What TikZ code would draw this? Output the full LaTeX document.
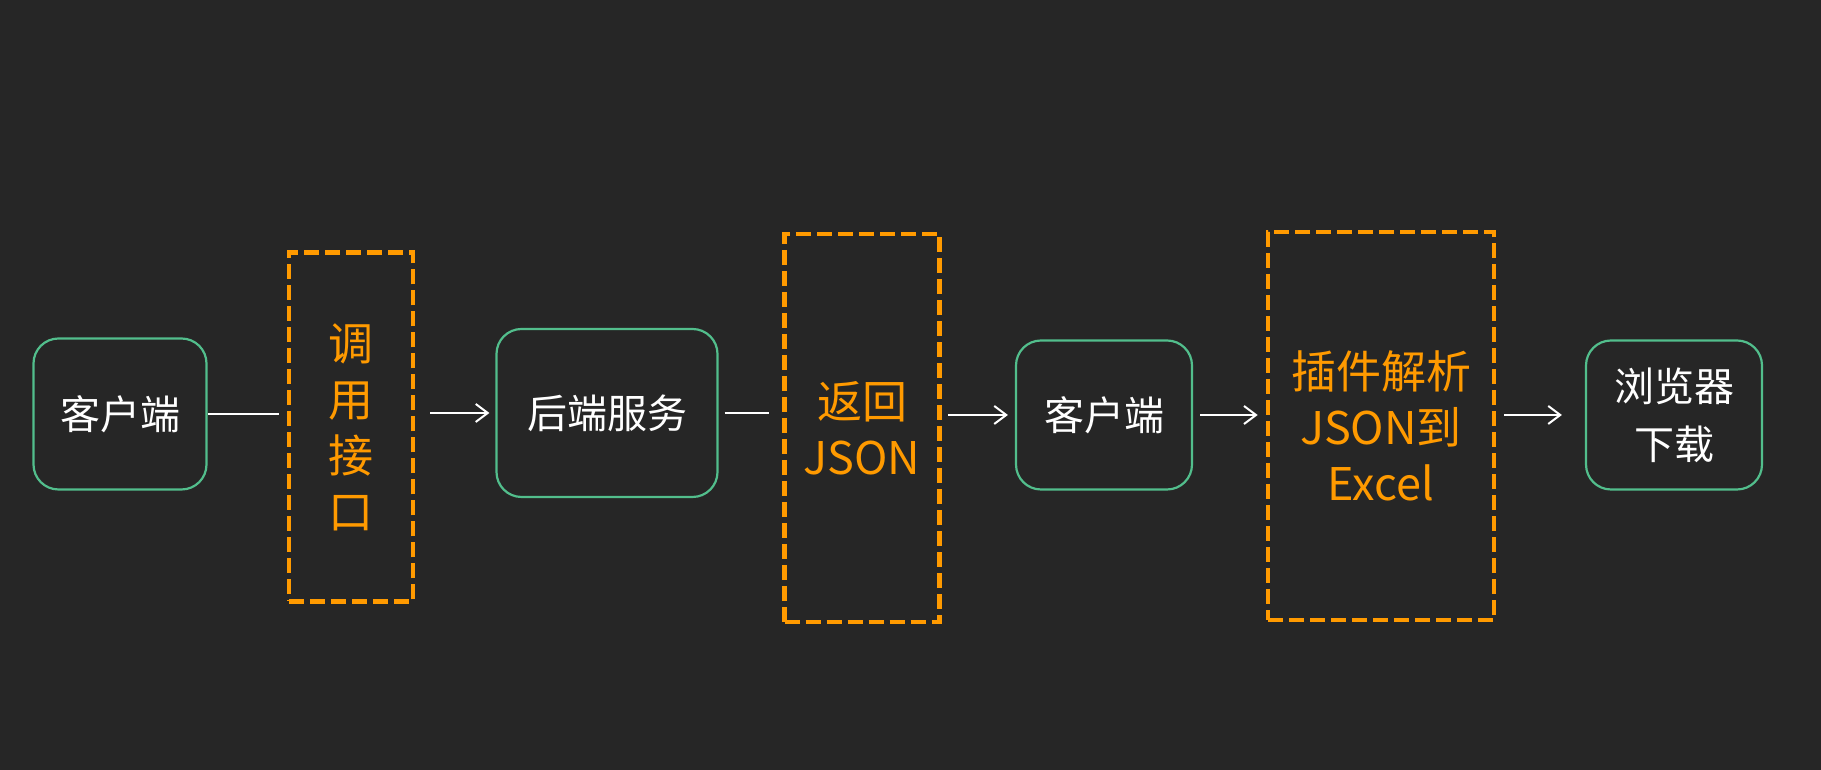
\documentclass[tikz,border=0pt]{standalone}
\usepackage{fontspec}
\setmainfont{Noto Sans CJK SC}
\usetikzlibrary{arrows.meta}
\definecolor{bg}{HTML}{262626}
\definecolor{mint}{HTML}{52BE8C}
\definecolor{amber}{HTML}{FF9A00}

\begin{document}
\begin{tikzpicture}[x=1pt,y=1pt,>={Straight Barb[length=12pt,width=18pt]},
    stage node/.style={draw=mint,line width=2.2pt,rounded corners=25pt,text=white,font=\fontsize{40}{58}\selectfont,align=center,inner sep=0pt},
    note node/.style={draw=amber,line width=4.6pt,dash pattern=on 15pt off 6pt,text=amber,font=\fontsize{45}{56}\selectfont,align=center,inner sep=0pt},
    link/.style={white,line width=2pt}]
   \fill[bg] (0,0) rectangle (1821,770);
   \useasboundingbox (0,0) rectangle (1821,770);
   % steps
   \node[stage node,minimum width=173pt,minimum height=151pt] (client) at (120,356) {客户端};
   \node[stage node,minimum width=221pt,minimum height=168pt] (server) at (607,357) {后端服务};
   \node[stage node,minimum width=176pt,minimum height=149pt] (client2) at (1104,355) {客户端};
   \node[stage node,minimum width=176pt,minimum height=149pt] (browser) at (1674,355) {浏览器\\下载};
   % notes
   \node[note node,minimum width=124pt,minimum height=349pt] (call) at (351,343) {调\\用\\接\\口};
   \node[note node,minimum width=155pt,minimum height=388pt] (json) at (862,342) {返回\\JSON};
   \node[note node,minimum width=226pt,minimum height=388pt] (plugin) at (1381,344) {插件解析\\JSON到\\Excel};
   % connectors
   \draw[link,shorten >=8pt] (client.east) -- (client.east -| call.west);
   \draw[link,->,shorten <=15pt,shorten >=6pt] (call.east |- server) -- (server.west);
   \draw[link,shorten <=6pt,shorten >=13pt] (server.east) -- (server.east -| json.west);
   \draw[link,->,shorten <=6pt,shorten >=7pt] (json.east |- client2) -- (client2.west);
   \draw[link,->,shorten <=7pt,shorten >=8pt] (client2.east) -- (client2.east -| plugin.west);
   \draw[link,->,shorten <=8pt,shorten >=23pt] (plugin.east |- browser) -- (browser.west);
\end{tikzpicture}
\end{document}
